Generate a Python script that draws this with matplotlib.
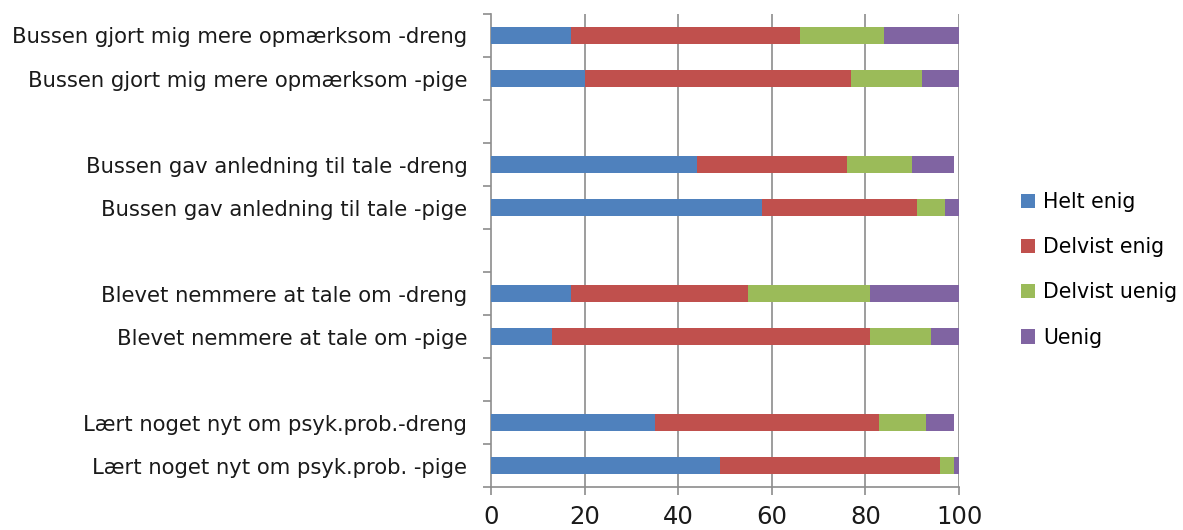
import matplotlib
matplotlib.use("Agg")
import matplotlib.pyplot as plt
import numpy as np

plt.rcParams['font.family'] = ['DejaVu Sans']

categories = [
    "Bussen gjort mig mere opmærksom -dreng",
    "Bussen gjort mig mere opmærksom -pige",
    "",
    "Bussen gav anledning til tale -dreng",
    "Bussen gav anledning til tale -pige",
    "",
    "Blevet nemmere at tale om -dreng",
    "Blevet nemmere at tale om -pige",
    "",
    "Lært noget nyt om psyk.prob.-dreng",
    "Lært noget nyt om psyk.prob. -pige",
]

series_names = ["Helt enig", "Delvist enig", "Delvist uenig", "Uenig"]
helt_enig     = [17, 20, 0, 44, 58, 0, 17, 13, 0, 35, 49]
delvist_enig  = [49, 57, 0, 32, 33, 0, 38, 68, 0, 48, 47]
delvist_uenig = [18, 15, 0, 14,  6, 0, 26, 13, 0, 10,  3]
uenig         = [16,  8, 0,  9,  3, 0, 19,  6, 0,  6,  1]
colors = ["#4F81BD", "#C0504D", "#9BBB59", "#8064A2"]

x_ticks = [0, 20, 40, 60, 80, 100]

fig = plt.figure(figsize=(11.83, 5.30), dpi=100)
ax = fig.add_axes([0.415, 0.081, 0.3957, 0.8926])

y = np.arange(len(categories))
left = np.zeros(len(categories))
for name, vals, c in zip(series_names, [helt_enig, delvist_enig, delvist_uenig, uenig], colors):
    vals = np.array(vals, dtype=float)
    ax.barh(y, vals, left=left, height=0.4, color=c, label=name, zorder=3)
    left += vals

ax.set_xlim(0, 100)
ax.set_ylim(len(categories) - 0.5, -0.5)

grid_c = "#8C8C8C"
ax.set_xticks(x_ticks)
ax.set_xticklabels([str(t) for t in x_ticks], fontsize=17.5, color="#1a1a1a")
for t in x_ticks[1:]:
    ax.axvline(t, color=grid_c, lw=1.2, zorder=1)

ax.set_yticks(y)
ax.set_yticklabels(categories, fontsize=15.2, color="#1a1a1a")
ax.tick_params(axis="y", which="major", length=0, pad=17)
ax.set_yticks(np.arange(-0.5, len(categories) + 0.5, 1), minor=True)
ax.tick_params(axis="y", which="minor", length=6, color=grid_c, width=1.2)
ax.tick_params(axis="x", length=6, color=grid_c, width=1.2, pad=7)

for s in ["top", "right"]:
    ax.spines[s].set_visible(False)
for s in ["left", "bottom"]:
    ax.spines[s].set_color(grid_c)
    ax.spines[s].set_linewidth(1.2)

fig.legend(loc="upper left", bbox_to_anchor=(0.847, 0.672), frameon=False,
           fontsize=14.8, handlelength=0.7, handleheight=0.7, handletextpad=0.4,
           labelspacing=1.22)

fig.savefig("out.png", dpi=100)
